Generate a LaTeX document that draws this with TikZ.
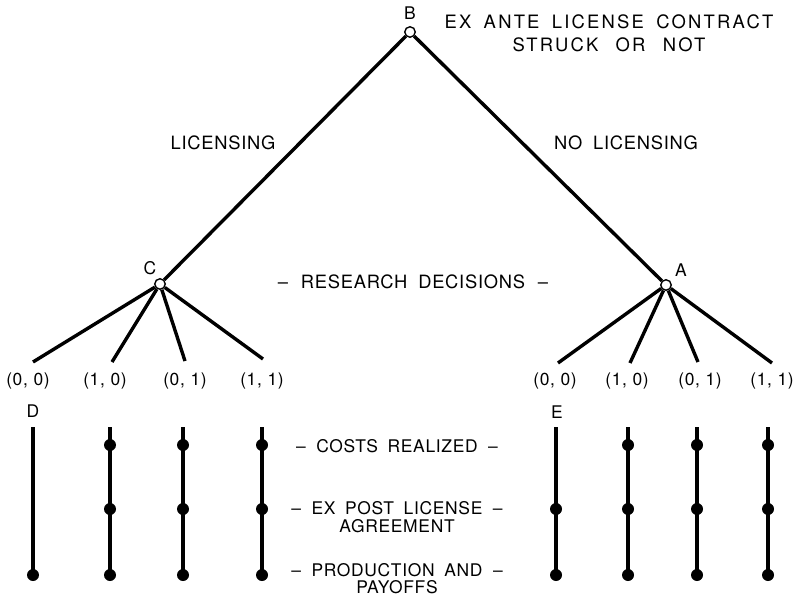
\documentclass[tikz,border=0pt]{standalone}
\usepackage{fontspec}
\setmainfont{TeX Gyre Heros}[LetterSpace=4]
\begin{document}
\begin{tikzpicture}[x=1bp,y=-1bp,
  open/.style={circle,draw,fill=white,line width=1.4bp,inner sep=0pt,minimum size=10.5bp},
  dot/.style={circle,fill=black,inner sep=0pt,minimum size=12bp},
  branch/.style={line width=3.4bp},
  stem/.style={line width=3.4bp},
  lbl/.style={font=\fontsize{18.4}{20}\selectfont,inner sep=0pt,align=center},
  stage/.style={font=\fontsize{17.5}{18}\selectfont,inner sep=0pt,align=center},
  tag/.style={font=\fontsize{17.5}{20}\selectfont,inner sep=0pt}]
\useasboundingbox (0,0) rectangle (795,598);
% decision nodes
\node[open] (B) at (410,32) {};
\node[open] (C) at (160,284) {};
\node[open] (A) at (666,285) {};
\node[tag] (Bl) at (410,13) {B};
\node[tag] (Cl) at (150,268) {C};
\node[tag] (Al) at (681,270) {A};
% main branches
\draw[branch] (B) -- (C);
\draw[branch] (B) -- (A);
\node[lbl] (lic) at (223,143) {LICENSING};
\node[lbl] (nolic) at (626,143) {NO\hspace{5bp} LICENSING};
\node[lbl,font=\fontsize{18.5}{23}\selectfont\addfontfeature{LetterSpace=12}] (exante) at (609,33.5)
  {EX\hspace{5bp} ANTE\hspace{5bp} LICENSE\hspace{5bp} CONTRACT\\STRUCK\hspace{10bp} OR\hspace{10bp} NOT};
\node[lbl] (research) at (413,282) {--\hspace{7bp} RESEARCH\hspace{5bp} DECISIONS\hspace{7bp} --};
% leaves
\coordinate (c1) at (33,362);
\coordinate (c2) at (112,362);
\coordinate (c3) at (185,361);
\coordinate (c4) at (263,359);
\coordinate (a1) at (558,363);
\coordinate (a2) at (630,363);
\coordinate (a3) at (698,362);
\coordinate (a4) at (772,363);
\foreach \p in {c1,c2,c3,c4} \draw[branch] (C) -- (\p);
\foreach \p in {a1,a2,a3,a4} \draw[branch] (A) -- (\p);
\node[tag] (lc1) at (28,381) {(0, 0)};
\node[tag] (lc2) at (105,381) {(1, 0)};
\node[tag] (lc3) at (185,381) {(0, 1)};
\node[tag] (lc4) at (262,381) {(1, 1)};
\node[tag] (la1) at (555,381) {(0, 0)};
\node[tag] (la2) at (627,381) {(1, 0)};
\node[tag] (la3) at (700,381) {(0, 1)};
\node[tag] (la4) at (772,381) {(1, 1)};
\node[tag] (D) at (33,411) {D};
\node[tag] (E) at (557,412) {E};
% stems
\foreach \n/\x in {s1/33,s2/110,s3/183,s4/262,t1/556,t2/628,t3/697,t4/768}{
  \coordinate (\n top) at (\x,427);
  \node[dot] (\n b) at (\x,575) {};
}
\foreach \n/\x in {s2/110,s3/183,s4/262,t2/628,t3/697,t4/768}{
  \node[dot] (\n u) at (\x,445) {};
}
\foreach \n/\x in {s2/110,s3/183,s4/262,t1/556,t2/628,t3/697,t4/768}{
  \node[dot] (\n m) at (\x,509) {};
}
\foreach \n in {s1,s2,s3,s4,t1,t2,t3,t4} \draw[stem] (\n top) -- (\n b.center);
% stage labels
\node[stage] (costs) at (397,446) {--\hspace{5bp} COSTS\hspace{4bp} REALIZED\hspace{5bp} --};
\node[stage] (expost) at (397,517) {--\hspace{5bp} EX\hspace{4bp} POST\hspace{4bp} LICENSE\hspace{5bp} --\\AGREEMENT};
\node[stage,font=\fontsize{17.5}{17}\selectfont] (prod) at (397,579) {--\hspace{5bp} PRODUCTION\hspace{4bp} AND\hspace{5bp} --\\PAYOFFS};
\end{tikzpicture}
\end{document}
